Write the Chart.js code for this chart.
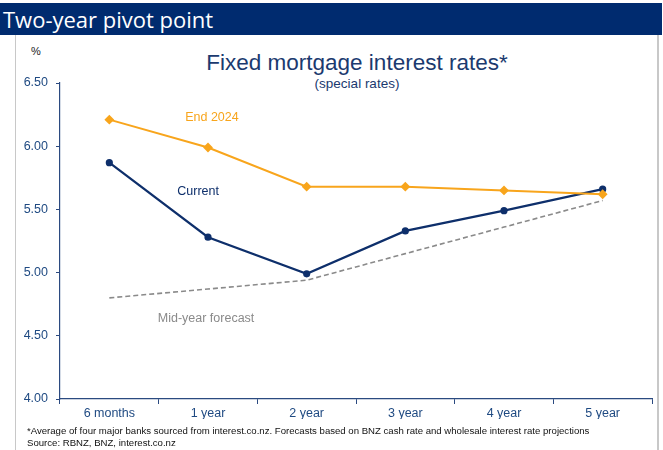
<!DOCTYPE html>
<html>
<head>
<meta charset="utf-8">
<script src="https://cdn.jsdelivr.net/npm/chart.js"></script>
<style>
  html, body { margin: 0; padding: 0; background: #fff; }
  body { width: 663px; height: 450px; position: relative; overflow: hidden; font-family: "Liberation Sans", Arial, sans-serif; }
  #header { position: absolute; left: 0; top: 3px; width: 662px; height: 32px; background: #002b6f; }
  #header span { position: absolute; left: 3px; top: 1px; color: #fff; font-family: "Open Sans", sans-serif; font-size: 22px; line-height: 30px; }
  #frame { position: absolute; left: 15px; top: 35px; width: 641px; height: 420px; border-left: 1px solid #c8c8c8; border-right: 2px solid #c8c8c8; }
  #pct { position: absolute; left: 31px; top: 45px; font-size: 11px; color: #222; }
  #title { position: absolute; left: 60px; width: 594px; top: 50px; text-align: center; font-size: 22.5px; color: #1b3a6f; }
  #subtitle { position: absolute; left: 60px; width: 594px; top: 76px; text-align: center; font-size: 13.5px; color: #1b3a6f; }
  #foot { position: absolute; left: 27px; top: 425px; font-size: 9.6px; line-height: 12px; color: #111; }
  #wrap { position: absolute; left: 0; top: 0; width: 663px; height: 450px; }
</style>
</head>
<body>
<div id="header"><span>Two-year pivot point</span></div>
<div id="frame"></div>
<div id="pct">%</div>
<div id="title">Fixed mortgage interest rates*</div>
<div id="subtitle">(special rates)</div>
<div id="wrap"><canvas id="chart" width="663" height="450"></canvas></div>
<div id="foot">*Average of four major banks sourced from interest.co.nz. Forecasts based on BNZ cash rate and wholesale interest rate projections<br>Source: RBNZ, BNZ, interest.co.nz</div>

<script>
// terms (x axis)
const terms = ['6 months', '1 year', '2 year', '3 year', '4 year', '5 year'];

// series, % rates
const end2024 = [6.21, 5.99, 5.68, 5.68, 5.65, 5.62];
const current = [5.87, 5.28, 4.99, 5.33, 5.49, 5.66];
const midYearForecast = [4.80, 4.87, 4.94, 5.15, 5.36, 5.57];

// y axis
const yMin = 4.0;
const yMax = 6.5;
const yStep = 0.5;

const NAVY = '#0e2f6b';
const ORANGE = '#f8a51c';
const GREY = '#8a8a8a';
const AXIS = '#2b4a80';
const TICK_TEXT = '#1f4a82';
const FONT = '"Liberation Sans", Arial, sans-serif';

// in-chart series labels, positioned in data units (category index, %)
const seriesLabels = [
  { text: 'End 2024', x: 1.04, y: 6.23, color: ORANGE },
  { text: 'Current', x: 0.9, y: 5.645, color: NAVY },
  { text: 'Mid-year forecast', x: 0.98, y: 4.64, color: GREY }
];

const labelPlugin = {
  id: 'seriesLabels',
  afterDatasetsDraw(chart) {
    const { ctx, scales } = chart;
    ctx.save();
    ctx.font = '12.5px ' + FONT;
    ctx.textAlign = 'center';
    ctx.textBaseline = 'middle';
    seriesLabels.forEach(l => {
      ctx.fillStyle = l.color;
      ctx.fillText(l.text, scales.x.getPixelForValue(l.x), scales.y.getPixelForValue(l.y));
    });
    ctx.restore();
  }
};

const ctx = document.getElementById('chart').getContext('2d');
new Chart(ctx, {
  type: 'line',
  data: {
    labels: terms,
    datasets: [
      {
        label: 'Mid-year forecast',
        data: midYearForecast,
        borderColor: GREY,
        borderWidth: 1.6,
        borderDash: [5, 3],
        pointRadius: 0,
        tension: 0
      },
      {
        label: 'End 2024',
        data: end2024,
        borderColor: ORANGE,
        backgroundColor: ORANGE,
        borderWidth: 2,
        pointStyle: 'rectRot',
        pointRadius: 3.5,
        tension: 0
      },
      {
        label: 'Current',
        data: current,
        borderColor: NAVY,
        backgroundColor: NAVY,
        borderWidth: 2.2,
        pointStyle: 'circle',
        pointRadius: 2.5,
        tension: 0
      }
    ]
  },
  options: {
    responsive: false,
    animation: false,
    layout: { padding: { top: 83, right: 11, bottom: 31, left: 0 } },
    plugins: {
      legend: { display: false },
      tooltip: { enabled: false }
    },
    scales: {
      x: {
        offset: true,
        grid: { offset: true, drawOnChartArea: false, drawTicks: true, tickLength: 5, color: AXIS },
        border: { color: AXIS, width: 1.2 },
        ticks: { color: TICK_TEXT, font: { family: FONT, size: 12.5 }, padding: 2, maxRotation: 0 },
        afterFit(scale) { scale.height = 20; }
      },
      y: {
        min: yMin,
        max: yMax,
        grid: { drawOnChartArea: false, drawTicks: true, tickLength: 4, color: AXIS },
        border: { color: AXIS, width: 1.2 },
        ticks: {
          stepSize: yStep,
          color: TICK_TEXT,
          font: { family: FONT, size: 12.5 },
          padding: 8,
          callback: v => Number(v).toFixed(2)
        },
        afterFit(scale) { scale.width = 60; }
      }
    }
  },
  plugins: [labelPlugin]
});
</script>
</body>
</html>
